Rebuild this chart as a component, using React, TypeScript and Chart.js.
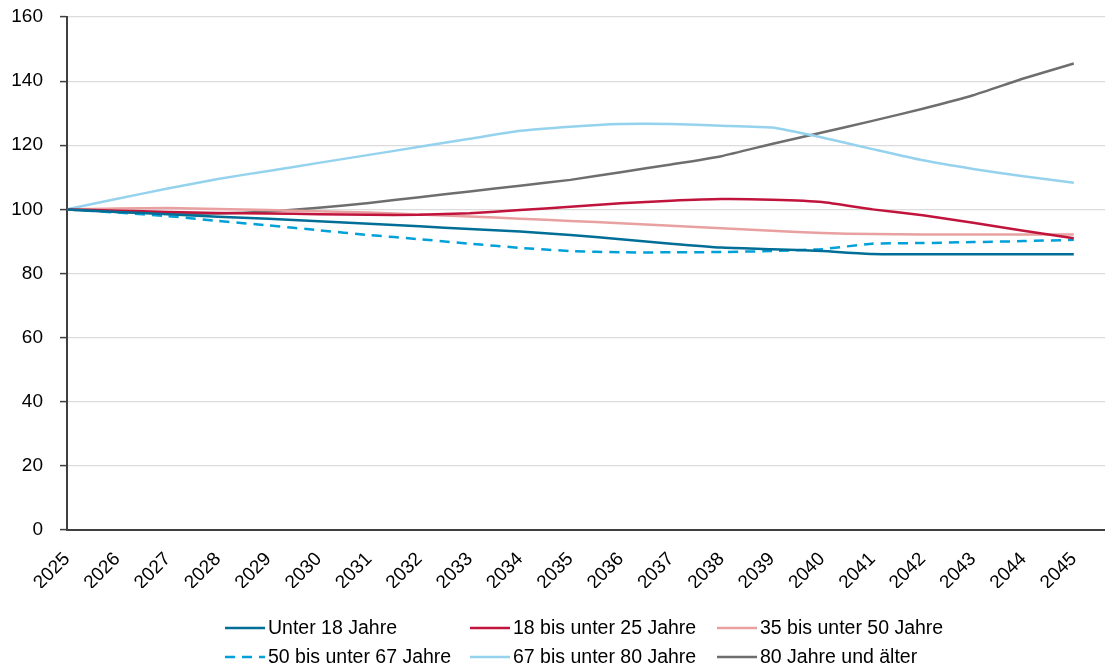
import React, { useEffect, useRef } from "react";
import { Chart, registerables } from "chart.js";

Chart.register(...registerables);

const years = [2025, 2026, 2027, 2028, 2029, 2030, 2031, 2032, 2033, 2034, 2035, 2036, 2037, 2038, 2039, 2040, 2041, 2042, 2043, 2044, 2045];

const unter18 = [100, 99.2, 98.5, 97.7, 97.1, 96.3, 95.5, 94.7, 93.9, 93.1, 92.0, 90.7, 89.3, 88.1, 87.6, 87.0, 86.1, 86.0, 86.0, 86.0, 86.0];
const bis25 = [100, 99.6, 99.2, 98.9, 98.7, 98.5, 98.3, 98.3, 98.8, 99.8, 100.8, 101.9, 102.7, 103.2, 103.0, 102.3, 100.0, 98.2, 95.8, 93.3, 91.0];
const bis50 = [100, 100.3, 100.4, 100.1, 99.8, 99.4, 99.0, 98.4, 97.8, 97.1, 96.4, 95.7, 94.9, 94.1, 93.3, 92.6, 92.3, 92.2, 92.2, 92.2, 92.2];
const bis67 = [100, 99.0, 97.9, 96.4, 95.0, 93.5, 92.0, 90.7, 89.3, 88.0, 87.0, 86.6, 86.6, 86.7, 87.0, 87.6, 89.3, 89.5, 89.8, 90.1, 90.5];
const bis80 = [100, 103.3, 106.5, 109.5, 112.0, 114.5, 117.0, 119.5, 122.0, 124.5, 125.8, 126.6, 126.6, 126.1, 125.5, 122.4, 118.8, 115.3, 112.6, 110.3, 108.3];
const ab80 = [100, 99.2, 98.7, 98.7, 99.3, 100.5, 102.0, 103.8, 105.6, 107.4, 109.2, 111.6, 114.0, 116.6, 120.4, 124.0, 127.6, 131.4, 135.6, 140.8, 145.5];

const seriesLabels = [
  "Unter 18 Jahre",
  "18 bis unter 25 Jahre",
  "35 bis unter 50 Jahre",
  "50 bis unter 67 Jahre",
  "67 bis unter 80 Jahre",
  "80 Jahre und älter",
];
const seriesValues = [unter18, bis25, bis50, bis67, bis80, ab80];
const seriesColors = ["#006e96", "#c0143c", "#e8a0a0", "#00a0d8", "#94d2ee", "#6e6e6e"];
const seriesDash = [[], [], [], [10, 7], [], []];

const yTicks = [0, 20, 40, 60, 80, 100, 120, 140, 160];

const FONT = "'Liberation Sans', Arial, sans-serif";

const gridLegend = {
  id: "gridLegend",
  afterDraw(chart: any) {
    const ctx = chart.ctx;
    const colX = [225, 470, 717];
    const rowY = [628, 657];
    ctx.save();
    ctx.font = `19.5px ${FONT}`;
    ctx.textBaseline = "middle";
    ctx.fillStyle = "#000";
    chart.data.datasets.forEach((ds: any, i: number) => {
      const x = colX[i % 3];
      const y = rowY[Math.floor(i / 3)];
      ctx.beginPath();
      ctx.strokeStyle = ds.borderColor;
      ctx.lineWidth = 2.5;
      ctx.setLineDash(ds.borderDash || []);
      ctx.moveTo(x, y);
      ctx.lineTo(x + 40, y);
      ctx.stroke();
      ctx.setLineDash([]);
      ctx.fillText(ds.label, x + 43, y + 1);
    });
    ctx.restore();
  },
};

export default function App() {
  const ref = useRef<HTMLCanvasElement>(null);
  useEffect(() => {
    document.body.style.margin = "0";
    document.body.style.overflow = "hidden";
    const chart = new Chart(ref.current!, {
      type: "line",
      data: {
        datasets: seriesValues.map((vals, i) => ({
          label: seriesLabels[i],
          data: vals.map((v, j) => ({ x: years[j], y: v })),
          borderColor: seriesColors[i],
          backgroundColor: seriesColors[i],
          borderWidth: 2.5,
          borderDash: seriesDash[i],
          pointRadius: 0,
          tension: 0.15,
          fill: false,
        })),
      },
      options: {
        animation: false,
        responsive: true,
        maintainAspectRatio: false,
        layout: { autoPadding: false, padding: { top: 17, left: 0, right: 0, bottom: 80 } },
        plugins: { legend: { display: false }, tooltip: { enabled: false } },
        scales: {
          x: {
            type: "linear",
            min: years[0],
            max: years[years.length - 1] + 0.62,
            afterBuildTicks: (scale: any) => {
              scale.ticks = years.map((y) => ({ value: y }));
            },
            afterFit: (scale: any) => {
              scale.height = 58;
              scale.paddingLeft = 0;
              scale.paddingRight = 0;
            },
            ticks: {
              autoSkip: false,
              minRotation: 45,
              maxRotation: 45,
              padding: 18,
              color: "#000",
              font: { family: FONT, size: 19 },
              callback: (v: any) => String(v),
            },
            grid: { display: true, color: "rgba(0,0,0,0)", drawTicks: false },
            border: { display: true, color: "#404040", width: 2 },
          },
          y: {
            min: 0,
            max: 160,
            afterBuildTicks: (scale: any) => {
              scale.ticks = yTicks.map((v) => ({ value: v }));
            },
            afterFit: (scale: any) => {
              scale.width = 67;
              scale.paddingTop = 0;
              scale.paddingBottom = 0;
            },
            ticks: {
              padding: 17,
              color: "#000",
              font: { family: FONT, size: 19 },
              callback: (v: any) => String(v),
            },
            grid: { color: "#dcdcdc", lineWidth: 1.2, tickLength: 7, tickColor: "#404040", tickWidth: 1.5 },
            border: { display: true, color: "#404040", width: 2 },
          },
        },
      },
      plugins: [gridLegend],
    });
    return () => chart.destroy();
  }, []);
  return (
    <div style={{ width: 1105, height: 668, position: "absolute", left: 0, top: 0, background: "#fff" }}>
      <canvas ref={ref} />
    </div>
  );
}
